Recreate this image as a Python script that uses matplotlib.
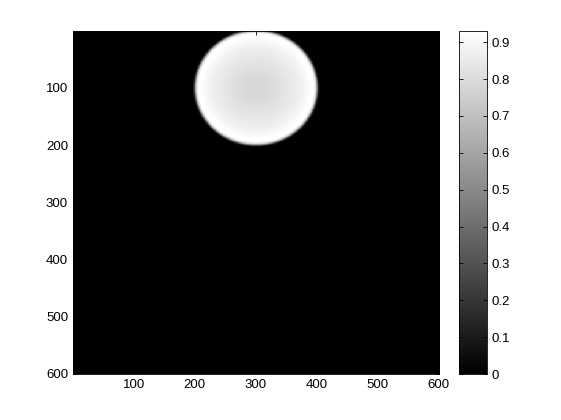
import numpy as np
import matplotlib
matplotlib.use("Agg")
import matplotlib.pyplot as plt

# image grid and disk
n_px = 600
disk_center = (300, 100)   # (x, y) in pixels
disk_radius = 100

# radial profile of the disk (normalised radius -> value)
prof_r = [0.0, 0.2, 0.4, 0.6, 0.75, 0.85, 0.9, 0.95, 0.98, 1.0, 1.02, 1.04]
prof_v = [0.78, 0.79, 0.82, 0.85, 0.88, 0.91, 0.93, 0.92, 0.75, 0.45, 0.12, 0.0]

xticks = [100, 200, 300, 400, 500, 600]
yticks = [100, 200, 300, 400, 500, 600]
cbar_ticks = [0, 0.1, 0.2, 0.3, 0.4, 0.5, 0.6, 0.7, 0.8, 0.9]

plt.rcParams['font.family'] = ['Liberation Sans', 'DejaVu Sans']
plt.rcParams['font.size'] = 9.5

yy, xx = np.mgrid[1:n_px + 1, 1:n_px + 1]
rr = np.hypot(xx - disk_center[0], yy - disk_center[1]) / disk_radius
img = np.interp(rr, prof_r, prof_v, right=0.0)

fig = plt.figure(figsize=(5.61, 4.2), dpi=100)
ax = fig.add_axes([0.130, 0.1095, 0.6525, 0.8165])
im = ax.imshow(img, cmap='gray', vmin=0, vmax=img.max(),
               extent=[0.5, n_px + 0.5, n_px + 0.5, 0.5], aspect='auto',
               interpolation='nearest')
ax.set_xticks(xticks)
ax.set_yticks(yticks)
ax.tick_params(direction='in', length=3, top=True, right=True, width=0.6)
for s in ax.spines.values():
    s.set_linewidth(0.6)

cax = fig.add_axes([0.818, 0.1095, 0.050, 0.8165])
cb = fig.colorbar(im, cax=cax, ticks=cbar_ticks)
cb.ax.set_yticklabels([f"{t:g}" for t in cbar_ticks])
cb.ax.tick_params(direction='in', length=3, left=True, right=True, width=0.6)
cb.outline.set_linewidth(0.6)

fig.savefig("out.png", dpi=100)
